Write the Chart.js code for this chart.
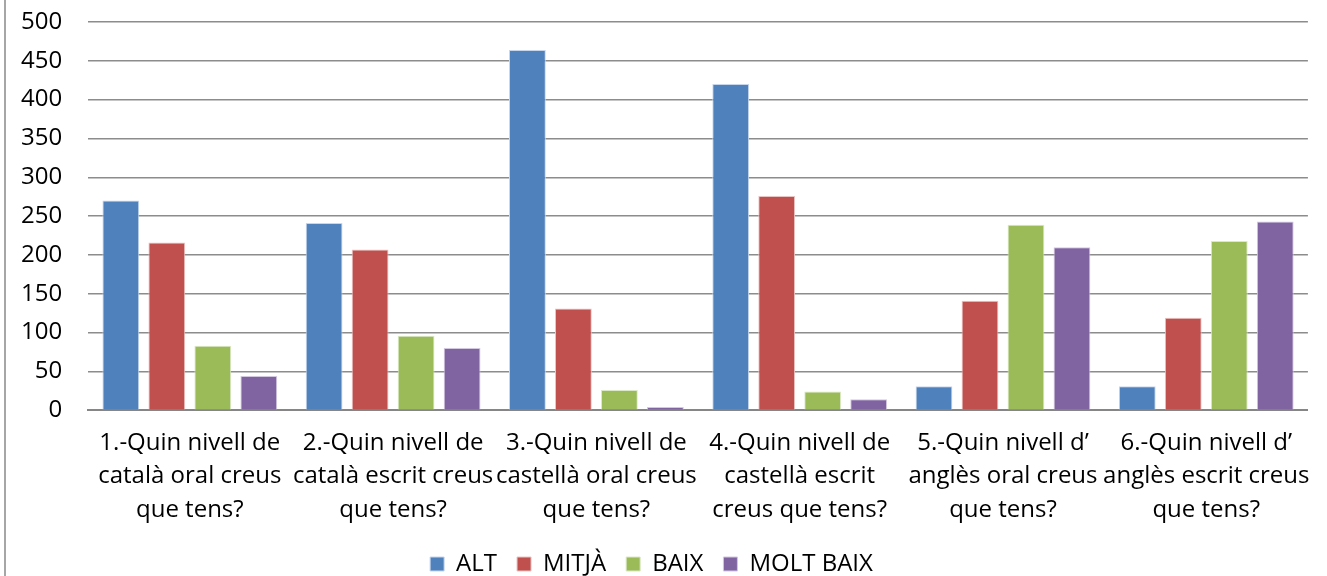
<!DOCTYPE html>
<html lang="ca">
<head>
  <meta charset="UTF-8" />
  <title>Nivell d'idiomes</title>
  <script src="https://cdn.jsdelivr.net/npm/chart.js"></script>
  <style>
    body {
      margin: 0;
      background: #ffffff;
      overflow: hidden;
    }
    #marc {
      position: absolute;
      left: 4px;
      top: 0;
      width: 2px;
      height: 576px;
      background: #a6a6a6;
    }
    #caixa {
      position: absolute;
      left: 0;
      top: 0;
      width: 1327px;
      height: 586px;
    }
  </style>
</head>
<body>
  <div id="marc"></div>
  <div id="caixa"><canvas id="grafic"></canvas></div>

  <script>
    const preguntes = [
      ['1.-Quin nivell de', 'català oral creus', 'que tens?'],
      ['2.-Quin nivell de', 'català escrit creus', 'que tens?'],
      ['3.-Quin nivell de', 'castellà oral creus', 'que tens?'],
      ['4.-Quin nivell de', 'castellà escrit', 'creus que tens?'],
      ['5.-Quin nivell d\u2019', 'anglès oral creus', 'que tens?'],
      ['6.-Quin nivell d\u2019', 'anglès escrit creus', 'que tens?']
    ];
    const alt = [270, 241, 464, 420, 31, 31];
    const mitja = [216, 207, 131, 276, 141, 119];
    const baix = [83, 96, 26, 24, 239, 218];
    const moltBaix = [44, 80, 4, 14, 210, 243];

    const font = "'Open Sans', sans-serif";

    new Chart(document.getElementById('grafic'), {
      type: 'bar',
      data: {
        labels: preguntes,
        datasets: [
          { label: 'ALT', data: alt, backgroundColor: '#4f81bd', borderColor: '#c6d6ec', borderWidth: 1 },
          { label: 'MITJÀ', data: mitja, backgroundColor: '#c0504d', borderColor: '#eac4c3', borderWidth: 1 },
          { label: 'BAIX', data: baix, backgroundColor: '#9bbb59', borderColor: '#dbe8c6', borderWidth: 1 },
          { label: 'MOLT BAIX', data: moltBaix, backgroundColor: '#8064a2', borderColor: '#d3c8e0', borderWidth: 1 }
        ]
      },
      options: {
        responsive: true,
        maintainAspectRatio: false,
        animation: false,
        categoryPercentage: 0.905,
        barPercentage: 0.8,
        layout: { padding: { left: -5, right: 19, top: 0, bottom: 0 } },
        plugins: {
          tooltip: { enabled: false },
          legend: {
            position: 'bottom',
            labels: {
              color: '#000000',
              font: { family: font, size: 24 },
              boxWidth: 14,
              boxHeight: 14,
              padding: 20
            }
          }
        },
        scales: {
          x: {
            grid: { display: false, drawTicks: false },
            border: { color: '#868686', width: 2 },
            ticks: {
              color: '#000000',
              font: { family: font, size: 24, lineHeight: 1.4 },
              autoSkip: false,
              maxRotation: 0,
              padding: 16
            },
            afterFit: (s) => { s.height -= 11; }
          },
          y: {
            min: 0,
            max: 500,
            grid: { color: '#8c8c8c', lineWidth: 1.5, drawTicks: false },
            border: { display: false },
            ticks: {
              stepSize: 50,
              color: '#000000',
              font: { family: font, size: 24 },
              padding: 26
            },
            afterFit: (s) => { s.paddingTop = 22; }
          }
        }
      }
    });
  </script>
</body>
</html>
